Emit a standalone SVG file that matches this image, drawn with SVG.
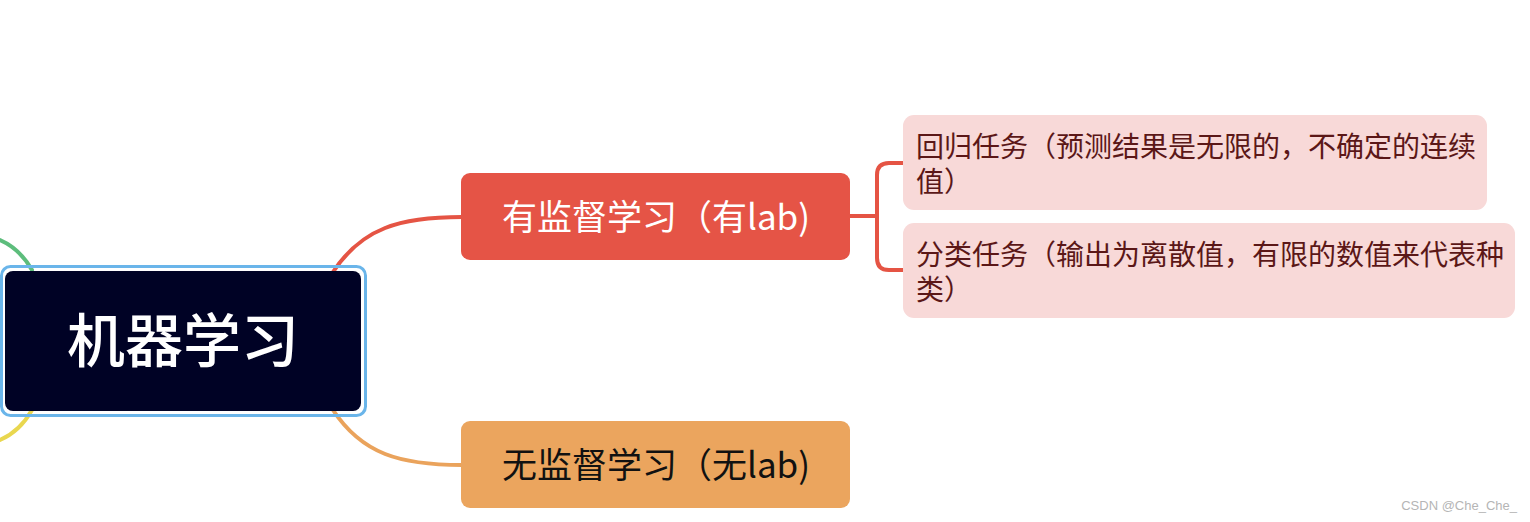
<svg xmlns="http://www.w3.org/2000/svg" width="1530" height="522" viewBox="0 0 1530 522">
<style>
.cn{font-family:"Noto Sans CJK SC","Noto Sans",sans-serif}
.conn{fill:none;stroke-width:4;stroke-linecap:round}
.sub{fill:#f8d9d8}
.subt{font-size:28px;fill:#5b1717}
.br{font-size:35px}
</style>
<rect width="1530" height="522" fill="#ffffff"/>
<g id="connectors">
<path class="conn" d="M0 240 C14 246 24 256 32 270" stroke="#5dbd7c"/>
<path class="conn" d="M0 440 C14 434 24 424 32 410" stroke="#e9d74f"/>
<path class="conn" d="M333 272 C362 228 400 217 462 217" stroke="#e55444"/>
<path class="conn" d="M333 410 C362 454 400 465 462 465" stroke="#eaa35c"/>
<path class="conn" d="M850 216 H877 M903 163 H889 Q877 163 877 175 V258 Q877 270 889 270 H903" stroke="#e55444" stroke-width="3"/>
</g>
<g id="root">
<rect x="1.5" y="266.5" width="364" height="149" rx="9" fill="none" stroke="#6ab5ea" stroke-width="3"/>
<rect x="5" y="271" width="356" height="140" rx="8" fill="#000225"/>
<text class="cn" x="183" y="362" font-size="58" fill="#ffffff" text-anchor="middle" font-weight="500">机器学习</text>
</g>
<g id="supervised">
<rect x="461" y="173" width="389" height="87" rx="9" fill="#e55446"/>
<text class="cn br" x="656" y="230" fill="#ffffff" text-anchor="middle">有监督学习（有lab)</text>
</g>
<g id="unsupervised">
<rect x="461" y="421" width="389" height="87" rx="9" fill="#eba55e"/>
<text class="cn br" x="656" y="478" fill="#111111" text-anchor="middle">无监督学习（无lab)</text>
</g>
<g id="regression">
<rect class="sub" x="903" y="115" width="584" height="95" rx="11"/>
<text class="cn subt" x="916" y="157">回归任务（预测结果是无限的，不确定的连续<tspan x="916" y="192">值）</tspan></text>
</g>
<g id="classification">
<rect class="sub" x="903" y="223" width="612" height="95" rx="11"/>
<text class="cn subt" x="916" y="265">分类任务（输出为离散值，有限的数值来代表种<tspan x="916" y="300">类）</tspan></text>
</g>
<text x="1517" y="510" font-family="Liberation Sans, Arial, sans-serif" font-size="13" fill="#b5b5b5" text-anchor="end">CSDN @Che_Che_</text>
</svg>
